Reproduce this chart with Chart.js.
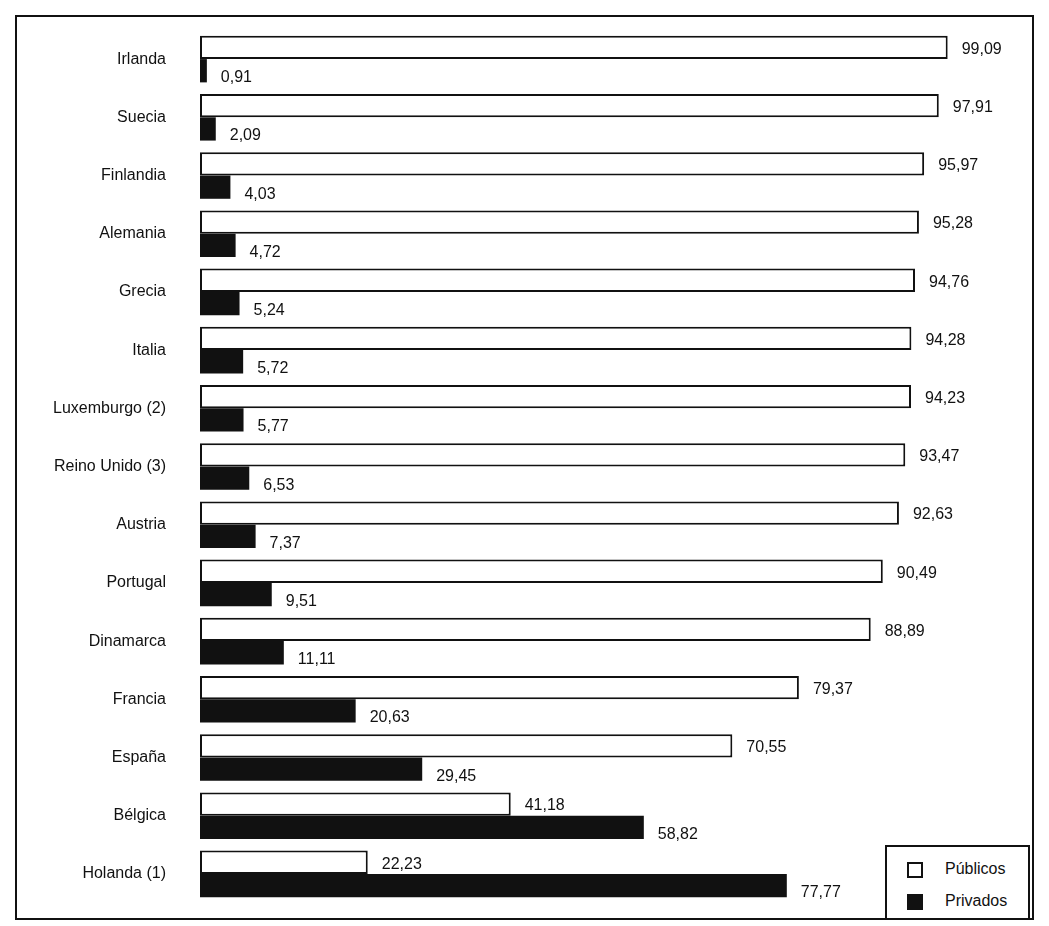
<!DOCTYPE html>
<html>
<head>
<meta charset="utf-8">
<script src="https://cdn.jsdelivr.net/npm/chart.js@4/dist/chart.umd.min.js"></script>
<style>
    body { margin: 0; background: #fff; font-family: "Liberation Sans", Arial, sans-serif; }
    #wrap { position: absolute; left: 0; top: 0; width: 1049px; height: 926px; }
    #frame { position: absolute; left: 15px; top: 15px; width: 1015px; height: 901px; border: 2px solid #111; pointer-events: none; }
    #legend { position: absolute; left: 885px; top: 845px; width: 141px; height: 71px; border: 2px solid #111; background: #fff; }
    .item { position: absolute; left: 20px; font-size: 16px; color: #111; }
    .box { position: absolute; left: 0; top: 2px; width: 12px; height: 12px; border: 2px solid #111; }
    .item span { position: absolute; left: 38px; top: 0; white-space: nowrap; }
</style>
</head>
<body>
<div id="wrap">
    <canvas id="barChart" width="1049" height="926"></canvas>
    <div id="frame"></div>
    <div id="legend">
        <div class="item" style="top:13px"><div class="box" style="background:#fff"></div><span>Públicos</span></div>
        <div class="item" style="top:45px"><div class="box" style="background:#111"></div><span>Privados</span></div>
    </div>
</div>
<script>
const countries = ['Irlanda', 'Suecia', 'Finlandia', 'Alemania', 'Grecia', 'Italia', 'Luxemburgo (2)',
    'Reino Unido (3)', 'Austria', 'Portugal', 'Dinamarca', 'Francia', 'España', 'Bélgica', 'Holanda (1)'];
const publicos = [99.09, 97.91, 95.97, 95.28, 94.76, 94.28, 94.23, 93.47, 92.63, 90.49, 88.89, 79.37, 70.55, 41.18, 22.23];
const privados = [0.91, 2.09, 4.03, 4.72, 5.24, 5.72, 5.77, 6.53, 7.37, 9.51, 11.11, 20.63, 29.45, 58.82, 77.77];

function fmt(v) {
    return v.toFixed(2).replace('.', ',');
}

// numbers at the end of each bar, privados a bit lower
const valueLabels = {
    id: 'valueLabels',
    afterDatasetsDraw(chart) {
        const ctx = chart.ctx;
        ctx.save();
        ctx.font = '16px "Liberation Sans", Arial, sans-serif';
        ctx.fillStyle = '#111';
        ctx.textAlign = 'left';
        ctx.textBaseline = 'middle';
        chart.data.datasets.forEach((ds, i) => {
            const meta = chart.getDatasetMeta(i);
            meta.data.forEach((bar, j) => {
                const dy = i === 0 ? 2 : 7;
                ctx.fillText(fmt(ds.data[j]), bar.x + 14, bar.y + dy);
            });
        });
        ctx.restore();
    }
};

const ctx = document.getElementById('barChart').getContext('2d');
new Chart(ctx, {
    type: 'bar',
    data: {
        labels: countries,
        datasets: [{
            label: 'Públicos',
            data: publicos,
            backgroundColor: '#ffffff',
            borderColor: '#111111',
            borderWidth: 2,
            borderSkipped: false
        }, {
            label: 'Privados',
            data: privados,
            backgroundColor: '#111111',
            borderColor: '#111111',
            borderWidth: 0
        }]
    },
    options: {
        indexAxis: 'y',
        responsive: false,
        animation: false,
        categoryPercentage: 0.8,
        barPercentage: 1.0,
        layout: {
            padding: { top: 30, bottom: 23, right: 19, left: 0 }
        },
        scales: {
            x: {
                display: false,
                min: 0,
                max: 110
            },
            y: {
                grid: { display: false },
                border: { display: false },
                ticks: {
                    color: '#111',
                    padding: 26,
                    font: { family: '"Liberation Sans", Arial, sans-serif', size: 16 }
                },
                afterFit(scale) {
                    scale.width = 200;
                    // tick padding should only push labels sideways, not shrink the plot
                    scale.paddingTop = 0;
                    scale.paddingBottom = 0;
                }
            }
        },
        plugins: {
            legend: { display: false },
            tooltip: { enabled: false }
        }
    },
    plugins: [valueLabels]
});
</script>
</body>
</html>
